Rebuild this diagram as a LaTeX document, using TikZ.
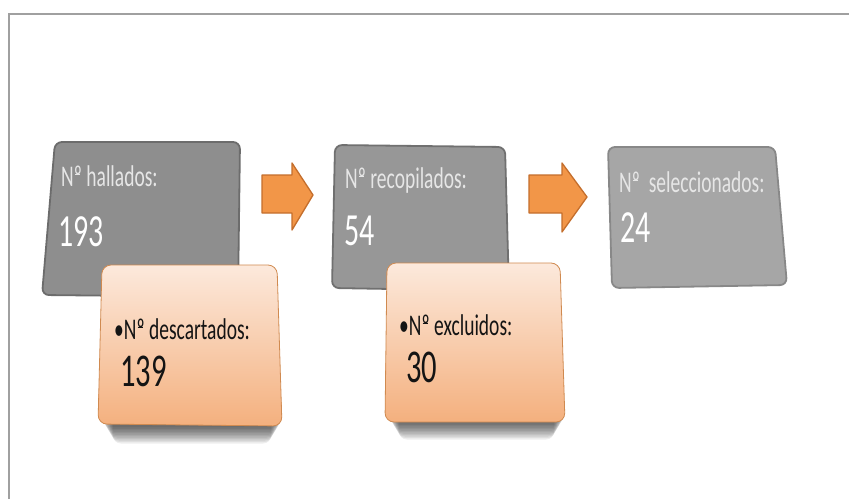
\documentclass[tikz,border=0pt]{standalone}
\usepackage{fontspec}
\setmainfont[FakeStretch=0.65]{Carlito}
\newcommand\nro{N\rlap{\kern0.035em\rule[0.36em]{0.17em}{0.045em}}º}
\definecolor{framegray}{HTML}{A0A0A0}
\definecolor{grayA}{HTML}{8E8E8E}
\definecolor{grayAd}{HTML}{6C6C6C}
\definecolor{grayB}{HTML}{979797}
\definecolor{grayBd}{HTML}{707070}
\definecolor{grayC}{HTML}{A6A6A6}
\definecolor{grayCd}{HTML}{888888}
\definecolor{lbltext}{HTML}{E6E6E6}
\definecolor{orTop}{HTML}{FCE9DC}
\definecolor{orBot}{HTML}{F4B07E}
\definecolor{orDraw}{HTML}{D08A50}
\definecolor{arFill}{HTML}{F29648}
\definecolor{arDraw}{HTML}{C46E2C}
\definecolor{darktext}{HTML}{141414}
\tikzset{
  lbl/.style={anchor=base west, inner sep=0pt, font=\fontsize{30}{34}\selectfont, text=lbltext},
  num/.style={anchor=base west, inner sep=0pt, font=\fontsize{46}{50}\selectfont, text=white},
  olbl/.style={anchor=base west, inner sep=0pt, font=\fontsize{30}{34}\selectfont, text=darktext},
  onum/.style={anchor=base west, inner sep=0pt, font=\fontsize{47}{52}\selectfont, text=darktext},
  gbox/.style={rounded corners=7pt, line width=1.8pt},
  obox/.style={rounded corners=9pt, top color=orTop, bottom color=orBot},
  oborder/.style={rounded corners=9pt, draw=orDraw, line width=0.8pt},
  blockarrow/.style={fill=arFill, draw=arDraw, line width=1.3pt, line join=round},
}
\begin{document}
\begin{tikzpicture}[x=1pt,y=-1pt]
\useasboundingbox (0,0) rectangle (849,499);
\fill[white] (0,0) rectangle (849,499);
% frame
\draw[framegray, line width=1.6pt] (9,499) -- (9,14) -- (849,14);

% gray boxes
\draw[gbox, fill=grayA, draw=grayAd] (55,142) -- (240,142) -- (238,297) -- (42,295) -- cycle;
\draw[gbox, fill=grayB, draw=grayBd] (335,145) -- (505,147) -- (509,291) -- (332,288) -- cycle;
\draw[gbox, fill=grayC, draw=grayCd] (608,147) -- (775,147) -- (787,285) -- (612,288) -- cycle;

% block arrows
\draw[blockarrow] (262,175) -- (292,175) -- (292,163) -- (313,195) -- (292,230) -- (292,213) -- (262,213) -- cycle;
\draw[blockarrow] (529,175) -- (562,175) -- (562,163) -- (587,197) -- (562,232) -- (562,213) -- (529,213) -- cycle;

% shadows
\foreach \k in {0,...,11}{
  \fill[black, opacity=0.065, rounded corners=8pt] (103+\k*0.9,400) rectangle (281-\k*0.9,427+\k*1.5);
  \fill[black, opacity=0.065, rounded corners=8pt] (389+\k*0.9,400) rectangle (564-\k*0.9,423+\k*1.5);
}

% orange boxes
\shade[obox] (102,265) -- (277,265) -- (282,426) -- (98,424) -- cycle;
\draw[oborder] (102,265) -- (277,265) -- (282,426) -- (98,424) -- cycle;
\shade[obox] (387,263) -- (560,263) -- (565,422) -- (385,422) -- cycle;
\draw[oborder] (387,263) -- (560,263) -- (565,422) -- (385,422) -- cycle;

% texts
\node[lbl] (t1) at (61,186) {\nro{} hallados:};
\node[num] (n1) at (58,246) {193};
\node[lbl] (t2) at (345,188) {\nro{} recopilados:};
\node[num] (n2) at (344,245) {54};
\node[lbl] (t3) at (619,192) {\nro\ \ seleccionados:};
\node[num] (n3) at (620,242) {24};
\node[olbl] (d1) at (114,339) {•\nro{} descartados:};
\node[onum] (dn1) at (120,386) {139};
\node[olbl] (d2) at (399,335) {•\nro{} excluidos:};
\node[onum] (dn2) at (406,382) {30};
\end{tikzpicture}
\end{document}
